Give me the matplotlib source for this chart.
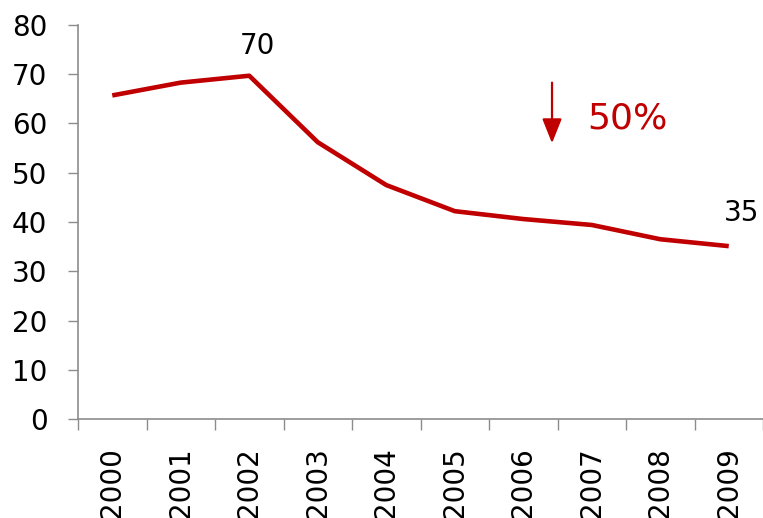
import matplotlib
matplotlib.use('Agg')
import matplotlib.pyplot as plt
import numpy as np

# chart data
years = ['2000', '2001', '2002', '2003', '2004',
         '2005', '2006', '2007', '2008', '2009']
values = [65.7, 68.3, 69.7, 56.2, 47.5, 42.2, 40.6, 39.4, 36.5, 35.1]
y_ticks = [0, 10, 20, 30, 40, 50, 60, 70, 80]
first_label = '70'
last_label = '35'
change_label = '50%'

red = '#C00000'
grey = '#8c8c8c'

plt.rcParams['font.family'] = ['DejaVu Sans']

fig = plt.figure(figsize=(7.63, 5.18), dpi=100)
ax = fig.add_axes([78 / 763, 1 - 419 / 518, 1 - 78 / 763, (419 - 25) / 518])

x = np.arange(len(years))
ax.plot(x, values, color=red, linewidth=3.3, solid_joinstyle='round',
        solid_capstyle='butt')

ax.set_xlim(-0.5, len(years) - 0.5)
ax.set_ylim(0, 80)

# y axis
ax.set_yticks(y_ticks)
ax.tick_params(axis='y', direction='out', length=7, width=1, color=grey,
               labelsize=20, pad=15)

# x axis: tick marks between categories, labels at centers
ax.set_xticks(np.arange(len(years) + 1) - 0.5)
ax.set_xticklabels([])
ax.set_xticks(x, minor=True)
ax.set_xticklabels(years, minor=True, rotation=90, fontsize=20)
ax.tick_params(axis='x', which='major', direction='out', length=8, width=1,
               color=grey)
ax.tick_params(axis='x', which='minor', length=0, pad=20)

for side in ['top', 'right']:
    ax.spines[side].set_visible(False)
for side in ['left', 'bottom']:
    ax.spines[side].set_color(grey)
    ax.spines[side].set_linewidth(1.2)

# value labels
ax.annotate(first_label, xy=(2, values[2]), xytext=(6, 11),
            textcoords='offset points', ha='center', va='bottom',
            fontsize=20)
ax.annotate(last_label, xy=(9, values[9]), xytext=(9, 14),
            textcoords='offset points', ha='center', va='bottom',
            fontsize=20)

# drop arrow and percentage
ax.annotate('', xy=(6.42, 56.0), xytext=(6.42, 68.3),
            arrowprops=dict(arrowstyle='-|>,head_length=1.5,head_width=0.6',
                            color=red, linewidth=1.6, shrinkA=0, shrinkB=0))
ax.text(6.93, 61.0, change_label, color=red, fontsize=26, ha='left',
        va='center')

fig.savefig('out.png', dpi=100)
